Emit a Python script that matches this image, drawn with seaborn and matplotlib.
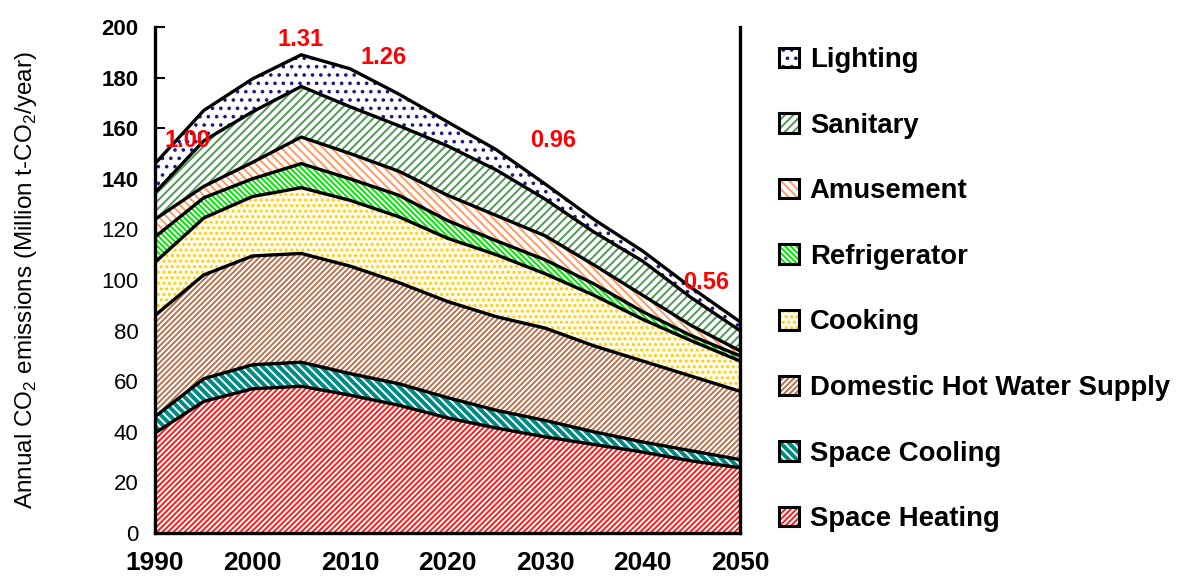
import matplotlib
matplotlib.use("Agg")
import matplotlib.pyplot as plt
from matplotlib.patches import Patch
from matplotlib.legend_handler import HandlerTuple
from matplotlib.ticker import MultipleLocator
import seaborn as sns
import numpy as np
import pandas as pd

# values (Million t-CO2/year, each end use, stacked bottom -> top)
years = [1990, 1995, 2000, 2005, 2010, 2015, 2020, 2025, 2030, 2035, 2040, 2045, 2050]
space_heating = [39.5, 52.0, 57.0, 58.0, 54.5, 50.5, 45.5, 41.5, 38.0, 35.0, 32.0, 28.5, 25.8]
space_cooling = [6.5, 9.0, 9.5, 9.5, 8.5, 8.5, 8.0, 7.0, 6.5, 5.0, 4.0, 4.0, 3.2]
hot_water = [40.0, 41.0, 43.0, 43.0, 42.5, 40.0, 38.0, 37.0, 36.5, 34.0, 32.0, 29.5, 27.0]
cooking = [21.0, 22.5, 23.5, 26.0, 26.0, 26.0, 25.0, 24.5, 21.5, 20.0, 16.5, 14.0, 12.0]
refrigerator = [10.0, 8.0, 7.0, 9.5, 8.5, 8.5, 7.0, 5.5, 5.5, 4.5, 3.0, 2.0, 2.0]
amusement = [7.0, 4.5, 6.5, 10.5, 10.0, 9.5, 10.0, 10.0, 9.5, 7.5, 6.5, 4.0, 2.0]
sanitary = [10.5, 18.0, 20.0, 20.0, 18.5, 18.0, 19.5, 18.0, 14.5, 13.0, 13.5, 11.0, 8.0]
lighting = [11.5, 12.0, 13.0, 12.5, 15.0, 12.5, 9.5, 8.0, 6.0, 5.0, 4.0, 4.0, 3.5]

labels = ["Space Heating", "Space Cooling", "Domestic Hot Water Supply", "Cooking",
          "Refrigerator", "Amusement", "Sanitary", "Lighting"]
series = [space_heating, space_cooling, hot_water, cooking,
          refrigerator, amusement, sanitary, lighting]

# ratio to 1990 written on the chart
ratio_text = ["1.00", "1.31", "1.26", "0.96", "0.56"]
ratio_pos = [(1993.3, 155), (2004.9, 195), (2013.4, 188), (2030.8, 155), (2046.5, 99)]

# face colour, hatch colour, hatch pattern
styles = [
    ("white", "#ff1a1a", "//////"),
    ("#008a84", "white", "\\\\\\\\"),
    ("white", "#b8724e", "//////"),
    ("#fffde6", "#ffc81e", "..."),
    ("white", "#00e600", "\\\\\\\\\\\\"),
    ("white", "#ff9a60", "\\\\\\\\"),
    ("white", "#4f9a55", "////"),
    ("white", "#1a1a80", ".."),
]

sns.set_theme(style="ticks")
plt.rcParams["font.family"] = ["Liberation Sans", "DejaVu Sans"]
plt.rcParams["mathtext.fontset"] = "custom"
plt.rcParams["mathtext.rm"] = "Liberation Sans"
plt.rcParams["hatch.linewidth"] = 1.4
for key in ["text.color", "axes.labelcolor", "xtick.color", "ytick.color"]:
    plt.rcParams[key] = "black"

fig = plt.figure(figsize=(11.81, 5.83), dpi=100)
ax = fig.add_axes([155 / 1181, 50 / 583, 585 / 1181, 506 / 583])

tops = np.cumsum(np.array(series), axis=0)
bottom = np.zeros(len(years))
for top, (face, hc, hatch) in zip(tops, styles):
    ax.fill_between(years, bottom, top, facecolor=face, edgecolor=hc,
                    hatch=hatch, linewidth=0)
    bottom = top

# black boundary lines between the layers
lines = pd.DataFrame({
    "year": np.tile(years, len(labels)),
    "top": tops.ravel(),
    "layer": np.repeat(labels, len(years)),
})
sns.lineplot(data=lines, x="year", y="top", hue="layer", hue_order=labels,
             palette=["black"] * len(labels), linewidth=2.4, legend=False, ax=ax)

for txt, (x, y) in zip(ratio_text, ratio_pos):
    ax.text(x, y, txt, color="red", fontsize=17, fontweight="bold",
            ha="center", va="center", clip_on=False)

ax.set_xlim(1990, 2050)
ax.set_ylim(0, 200)
ax.set_xticks(range(1990, 2051, 10))
ax.xaxis.set_minor_locator(MultipleLocator(5))
ax.set_yticks(range(0, 201, 20))
ax.set_xticklabels([str(y) for y in range(1990, 2051, 10)], fontsize=19, fontweight="bold")
ax.set_yticklabels([str(v) for v in range(0, 201, 20)], fontsize=16)
for lab, v in zip(ax.get_yticklabels(), range(0, 201, 20)):
    if v >= 140:
        lab.set_fontweight("bold")
ax.tick_params(axis="both", which="both", direction="in", width=1.5, color="black")
ax.tick_params(axis="both", which="major", length=7)
ax.tick_params(axis="x", which="minor", length=7)
ax.tick_params(axis="x", pad=13)
ax.tick_params(axis="y", pad=12)
ax.set_xlabel("")
ax.set_ylabel("Annual CO$_2$ emissions (Million t-CO$_2$/year)", fontsize=17.5)
ax.yaxis.set_label_coords(-0.198, 0.5)

for side in ["left", "bottom", "right"]:
    ax.spines[side].set_linewidth(2.4)
    ax.spines[side].set_color("black")
ax.spines["top"].set_visible(False)

handles = []
for face, hc, hatch in styles:
    handles.append((Patch(facecolor=face, edgecolor=hc, hatch=hatch, linewidth=0),
                    Patch(facecolor="none", edgecolor="black", linewidth=2.2)))
fig.legend(handles[::-1], labels[::-1], loc="upper left",
           bbox_to_anchor=(779 / 1181, 1 - 47 / 583), frameon=False,
           prop={"weight": "bold", "size": 19.8}, handlelength=0.72, handleheight=0.72,
           handletextpad=0.4, labelspacing=1.44, borderpad=0, borderaxespad=0,
           handler_map={tuple: HandlerTuple(ndivide=1)})

fig.savefig("out.png", dpi=100)
